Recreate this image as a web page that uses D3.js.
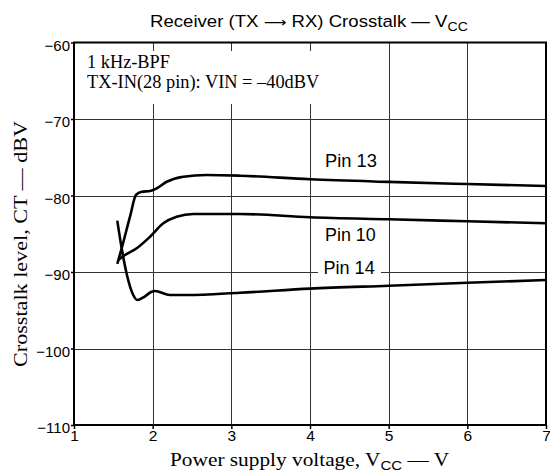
<!DOCTYPE html>
<html>
<head>
<meta charset="utf-8">
<script src="https://cdn.jsdelivr.net/npm/d3@7"></script>
<style>
  html, body { margin: 0; padding: 0; background: #fff; }
  svg { display: block; }
</style>
</head>
<body>
<svg id="chart" width="550" height="472"></svg>
<script>
// ---- data ----
const xTickValues = [1, 2, 3, 4, 5, 6, 7];
const yTickValues = [-60, -70, -80, -90, -100, -110];

const pin13V  = [1.55, 1.606, 1.712, 1.788, 1.86, 1.966, 2.051, 2.178, 2.389, 2.686, 3.109, 4.0, 5.0, 6.0, 7.0];
const pin13CT = [-88.95, -86.9, -82.77, -79.93, -79.5, -79.41, -79.06, -78.2, -77.54, -77.32, -77.41, -77.88, -78.22, -78.5, -78.76];

const pin10V  = [1.563, 1.648, 1.797, 1.966, 2.135, 2.305, 2.516, 3.109, 4.0, 5.0, 6.0, 7.0];
const pin10CT = [-88.43, -87.78, -86.9, -85.39, -83.63, -82.77, -82.42, -82.42, -82.84, -83.11, -83.37, -83.63];

const pin14V  = [1.55, 1.606, 1.673, 1.753, 1.804, 1.889, 1.987, 2.029, 2.22, 2.432, 3.109, 4.0, 5.0, 6.0, 7.0];
const pin14CT = [-83.29, -86.9, -90.39, -93.01, -93.66, -93.27, -92.58, -92.48, -93.01, -93.01, -92.71, -92.17, -91.79, -91.41, -91.05];

const seriesNames = ["Pin 13", "Pin 10", "Pin 14"];

// ---- layout ----
const mLeft = 74, mRight = 546, mTop = 42.5, mBottom = 425;
const svg = d3.select("#chart");
const x = d3.scaleLinear().domain([1, 7]).range([mLeft, mRight]);
const y = d3.scaleLinear().domain([-110, -60]).range([mBottom, mTop]);

const SANS = "'Liberation Sans', Arial, sans-serif";
const SERIF = "'Liberation Serif', 'Times New Roman', serif";

// place a text (anchored at its start) so that its width spans [x0, x1]
function fitText(sel, x0, x1, baseline, rotate) {
  const w = sel.node().getBBox().width;
  const s = Math.abs(x1 - x0) / w;
  if (rotate) sel.attr("transform", `translate(${baseline},${x0}) rotate(-90) scale(${s},1)`);
  else sel.attr("transform", `translate(${x0},${baseline}) scale(${s},1)`);
}

// gridlines
const grid = svg.append("g").attr("stroke", "#333").attr("stroke-width", 1);
grid.selectAll("line.h").data(yTickValues.filter(d => d > -110 && d < -60)).join("line")
  .attr("x1", mLeft).attr("x2", mRight)
  .attr("y1", d => Math.round(y(d)) + 0.5).attr("y2", d => Math.round(y(d)) + 0.5);
grid.selectAll("line.v").data(xTickValues.filter(d => d > 1 && d < 7)).join("line")
  .attr("y1", mTop).attr("y2", mBottom)
  .attr("x1", d => Math.round(x(d)) + 0.5).attr("x2", d => Math.round(x(d)) + 0.5);

// white box behind annotation
svg.append("rect").attr("x", mLeft + 1).attr("y", 51).attr("width", 252).attr("height", 53).attr("fill", "#fff");

// axes ticks
const xAxis = svg.append("g").attr("transform", `translate(0,${mBottom})`)
  .call(d3.axisBottom(x).tickValues(xTickValues).tickSize(4).tickSizeOuter(0).tickFormat(d3.format("d")));
xAxis.select(".domain").remove();
xAxis.selectAll("line").attr("stroke", "#000").attr("stroke-width", 1.5);
xAxis.selectAll("text").attr("font-family", SANS).attr("font-size", 15.5).attr("fill", "#000").attr("dy", "0.85em").attr("y", 3);

const yAxis = svg.append("g").attr("transform", `translate(${mLeft},0)`)
  .call(d3.axisLeft(y).tickValues(yTickValues).tickSize(3).tickSizeOuter(0).tickFormat(d => "\u2212" + Math.abs(d)));
yAxis.select(".domain").remove();
yAxis.selectAll("line").attr("stroke", "#000").attr("stroke-width", 1.5);
yAxis.selectAll("text").attr("font-family", SANS).attr("font-size", 15).attr("fill", "#000").attr("x", -4).attr("dy", "0.5em");

// frame
svg.append("rect").attr("x", mLeft).attr("y", mTop).attr("width", mRight - mLeft).attr("height", mBottom - mTop)
  .attr("fill", "none").attr("stroke", "#000").attr("stroke-width", 2);

// pin 14 label background (gap in -90 line)
svg.append("rect").attr("x", 318).attr("y", y(-90) - 4).attr("width", 63).attr("height", 8).attr("fill", "#fff");

// curves
const line = d3.line().x(d => x(d[0])).y(d => y(d[1])).curve(d3.curveMonotoneX);
const series = [d3.zip(pin13V, pin13CT), d3.zip(pin10V, pin10CT), d3.zip(pin14V, pin14CT)];
svg.append("g").selectAll("path").data(series).join("path")
  .attr("d", line).attr("fill", "none").attr("stroke", "#000").attr("stroke-width", 2.6)
  .attr("stroke-linejoin", "round").attr("stroke-linecap", "butt");

// series labels
const labelBox = [[325, 377, 167.3], [325, 376, 240.7], [323.5, 375, 274]];
svg.append("g").selectAll("text").data(seriesNames).join("text")
  .attr("font-family", SANS).attr("font-size", 17.5)
  .text(d => d)
  .each(function (d, i) { fitText(d3.select(this), labelBox[i][0], labelBox[i][1], labelBox[i][2]); });

// annotation
const ann1 = svg.append("text").attr("font-family", SERIF).attr("font-size", 18.5).text("1 kHz-BPF");
fitText(ann1, 87, 170, 68.3);
const ann2 = svg.append("text").attr("font-family", SERIF).attr("font-size", 18.5).text("TX-IN(28 pin): VIN = \u201340dBV");
fitText(ann2, 87, 320, 88.3);

// title
const title = svg.append("text").attr("font-family", SANS).attr("font-size", 16.5);
title.append("tspan").text("Receiver (TX ");
title.append("tspan").attr("font-family", "'DejaVu Sans', sans-serif").attr("font-size", 14).text("\u27F6");
title.append("tspan").text(" RX) Crosstalk \u2014 V");
title.append("tspan").attr("font-size", 12.5).attr("dy", 4).text("CC");
fitText(title, 150, 468, 26.7);

// x-axis title
const xt = svg.append("text").attr("font-family", SERIF).attr("font-size", 18.5);
xt.append("tspan").text("Power supply voltage, V");
xt.append("tspan").attr("font-family", SANS).attr("font-size", 13).attr("dy", 3.5).text("CC");
xt.append("tspan").attr("dy", -3.5).text(" \u2014 V");
fitText(xt, 170, 450, 466);

// y-axis title
const yt = svg.append("text").attr("font-family", SERIF).attr("font-size", 18.5)
  .text("Crosstalk level, CT \u2014 dBV");
fitText(yt, 367, 120, 27, true);
</script>
</body>
</html>
